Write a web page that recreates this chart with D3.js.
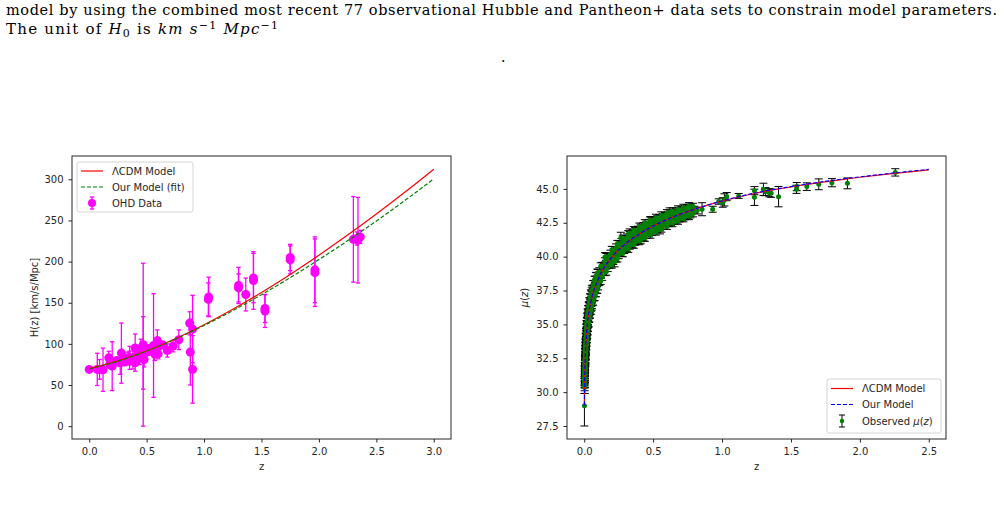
<!DOCTYPE html>
<html>
<head>
<meta charset="utf-8">
<script src="https://cdn.jsdelivr.net/npm/d3@7"></script>
<style>
  body { margin: 0; background: #fff; }
  svg { display: block; }
  text { font-family: "DejaVu Sans", sans-serif; }
</style>
</head>
<body>
<div id="chart"></div>
<script>
// ---- left panel: H(z) ----
const ohd = [
  [0.00, 69.0, 0.6], [0.07, 69, 19.6], [0.09, 69, 12], [0.12, 68.6, 26.2],
  [0.17, 83, 8], [0.179, 75, 4], [0.199, 75, 5], [0.20, 72.9, 29.6],
  [0.24, 79.7, 3], [0.27, 77, 14], [0.28, 88.8, 36.6], [0.30, 81.7, 6.2],
  [0.31, 78.2, 4.7], [0.34, 83.2, 6.7], [0.35, 82.7, 8.4], [0.352, 83, 14],
  [0.36, 79.9, 3.4], [0.38, 81.5, 1.9], [0.38, 83, 13.5], [0.40, 95, 17],
  [0.40, 82, 2], [0.40, 77, 10.2], [0.425, 87.1, 11.2], [0.43, 86.5, 4],
  [0.44, 82.6, 7.8], [0.44, 84.8, 1.8], [0.45, 92.8, 12.9], [0.47, 89, 44],
  [0.47, 99, 99], [0.478, 80.9, 9], [0.48, 87.8, 2], [0.51, 90.4, 1.9],
  [0.52, 94.4, 2.6], [0.56, 98, 63], [0.56, 93.3, 2.3], [0.57, 87.6, 7.8],
  [0.57, 96.8, 3.4], [0.59, 98.5, 3.2], [0.593, 104, 13], [0.60, 87.9, 6.1],
  [0.61, 97.3, 2.1], [0.64, 98.8, 3], [0.68, 92, 8], [0.73, 97.3, 7],
  [0.78, 105, 12], [0.875, 125, 14], [0.88, 90, 40], [0.90, 118, 41],
  [0.90, 69, 41], [1.037, 154, 20], [1.04, 157, 24], [1.30, 168, 17],
  [1.30, 171, 22], [1.363, 160, 20], [1.43, 177, 35], [1.43, 180, 30],
  [1.53, 140, 20], [1.53, 143, 17], [1.75, 202, 17], [1.75, 205, 16],
  [1.965, 186.5, 41], [1.965, 190, 40], [2.30, 227, 52], [2.33, 228, 8],
  [2.34, 226, 52], [2.36, 230, 8]
];
const hModelZ = [0, 0.25, 0.5, 0.75, 1.0, 1.25, 1.5, 1.75, 2.0, 2.25, 2.5, 2.75, 3.0];
const hLcdm = [70, 79.4, 91.6, 106.3, 123.2, 142.0, 162.5, 184.4, 207.7, 232.2, 257.8, 284.5, 312.3];
const hFit = [69.5, 79, 91.3, 105.8, 122.4, 140.4, 159.8, 180.5, 202.4, 225.3, 249.3, 274.4, 300.5];
const hXTicks = [0, 0.5, 1.0, 1.5, 2.0, 2.5, 3.0];
const hYTicks = [0, 50, 100, 150, 200, 250, 300];

// ---- right panel: distance modulus (z, mu, sigma) ----
const panLowZ = [
  [0.0015, 29.00, 1.50], [0.0026, 30.35, 0.45], [0.0028, 30.45, 0.55], [0.0030, 30.55, 0.45],
  [0.0031, 30.70, 0.40], [0.0033, 30.82, 0.45], [0.0035, 30.95, 0.40], [0.0037, 31.08, 0.45],
  [0.0039, 31.15, 0.40], [0.0041, 31.30, 0.45], [0.0043, 31.38, 0.40], [0.0045, 31.45, 0.45],
  [0.0047, 31.58, 0.40], [0.0050, 31.70, 0.45], [0.0052, 31.78, 0.40], [0.0055, 31.90, 0.45],
  [0.0058, 32.00, 0.40], [0.0061, 32.12, 0.45], [0.0064, 32.25, 0.40], [0.0067, 32.32, 0.45],
  [0.0070, 32.42, 0.40], [0.0074, 32.55, 0.45], [0.0078, 32.62, 0.40], [0.0082, 32.78, 0.45],
  [0.0086, 32.85, 0.40], [0.0090, 32.98, 0.45], [0.0095, 33.08, 0.40], [0.0100, 33.20, 0.45],
  [0.0105, 33.28, 0.40], [0.0110, 33.40, 0.45], [0.0116, 33.50, 0.40], [0.0122, 33.62, 0.45],
  [0.0128, 33.70, 0.40], [0.0135, 33.85, 0.45], [0.0142, 33.95, 0.40], [0.0150, 34.08, 0.45],
  [0.0158, 34.18, 0.40], [0.0166, 34.30, 0.45], [0.0175, 34.40, 0.40], [0.0185, 34.52, 0.45],
  [0.0195, 34.65, 0.40], [0.0205, 34.75, 0.45], [0.0216, 34.88, 0.40], [0.0228, 35.00, 0.45],
  [0.0240, 35.10, 0.40], [0.0253, 35.22, 0.45], [0.0266, 35.35, 0.40], [0.0280, 35.45, 0.45],
  [0.0295, 35.58, 0.40], [0.0310, 35.68, 0.45], [0.0326, 35.80, 0.40], [0.0343, 35.90, 0.45],
  [0.0360, 36.02, 0.40], [0.0378, 36.12, 0.45], [0.0397, 36.22, 0.40], [0.0417, 36.35, 0.45],
  [0.0438, 36.45, 0.40], [0.0460, 36.55, 0.40], [0.0483, 36.68, 0.35], [0.0507, 36.78, 0.40],
  [0.0532, 36.88, 0.35], [0.0558, 37.00, 0.40], [0.0585, 37.10, 0.35], [0.0614, 37.20, 0.40],
  [0.0644, 37.32, 0.35], [0.0675, 37.42, 0.35], [0.0708, 37.52, 0.35], [0.0742, 37.62, 0.35],
  [0.0778, 37.75, 0.35], [0.0815, 37.85, 0.35], [0.0854, 37.95, 0.35], [0.0895, 38.05, 0.35],
  [0.0938, 38.15, 0.35], [0.0982, 38.28, 0.35],
  // scatter above the mean relation
  [0.004, 31.55, 0.4], [0.005, 32.05, 0.4], [0.006, 32.40, 0.4], [0.007, 32.80, 0.4],
  [0.008, 33.05, 0.4], [0.009, 33.32, 0.4], [0.010, 33.60, 0.4], [0.012, 33.95, 0.4],
  [0.014, 34.30, 0.4], [0.016, 34.62, 0.4], [0.018, 34.85, 0.4], [0.020, 35.10, 0.4],
  [0.023, 35.40, 0.4], [0.026, 35.68, 0.4], [0.030, 36.00, 0.4], [0.035, 36.32, 0.35],
  [0.040, 36.62, 0.35], [0.045, 36.90, 0.35], [0.050, 37.12, 0.35], [0.055, 37.35, 0.35],
  [0.060, 37.55, 0.35], [0.070, 37.90, 0.35], [0.080, 38.20, 0.35], [0.090, 38.46, 0.35],
  [0.100, 38.70, 0.35],
  // scatter below the mean relation
  [0.004, 30.75, 0.4], [0.005, 31.28, 0.4], [0.006, 31.65, 0.4], [0.007, 32.00, 0.4],
  [0.008, 32.28, 0.4], [0.009, 32.55, 0.4], [0.010, 32.78, 0.4], [0.012, 33.20, 0.4],
  [0.014, 33.52, 0.4], [0.016, 33.80, 0.4], [0.018, 34.06, 0.4], [0.020, 34.30, 0.4],
  [0.023, 34.60, 0.4], [0.026, 34.86, 0.4], [0.030, 35.18, 0.4], [0.035, 35.50, 0.35],
  [0.040, 35.82, 0.35], [0.045, 36.08, 0.35], [0.050, 36.32, 0.35], [0.055, 36.52, 0.35],
  [0.060, 36.72, 0.35], [0.070, 37.08, 0.35], [0.080, 37.40, 0.35], [0.090, 37.66, 0.35],
  [0.100, 37.90, 0.35]
];
// outer scatter, low redshift
const panLowWide = [
  [0.005, 32.26, 0.35], [0.007, 32.99, 0.35], [0.009, 33.55, 0.35], [0.011, 33.99, 0.35],
  [0.013, 34.35, 0.35], [0.015, 34.67, 0.35], [0.017, 34.94, 0.35], [0.019, 35.19, 0.35],
  [0.022, 35.50, 0.35], [0.025, 35.79, 0.35], [0.028, 36.03, 0.35], [0.032, 36.34, 0.3],
  [0.037, 36.67, 0.3], [0.042, 36.96, 0.3], [0.048, 37.25, 0.3], [0.055, 37.55, 0.3],
  [0.065, 37.93, 0.3], [0.075, 38.26, 0.3], [0.085, 38.54, 0.3], [0.095, 38.79, 0.3],
  [0.005, 31.06, 0.35], [0.007, 31.79, 0.35], [0.009, 32.35, 0.35], [0.011, 32.79, 0.35],
  [0.013, 33.15, 0.35], [0.015, 33.47, 0.35], [0.017, 33.74, 0.35], [0.019, 33.99, 0.35],
  [0.022, 34.30, 0.35], [0.025, 34.59, 0.35], [0.028, 34.83, 0.35], [0.032, 35.14, 0.3],
  [0.037, 35.47, 0.3], [0.042, 35.76, 0.3], [0.048, 36.05, 0.3], [0.055, 36.35, 0.3],
  [0.065, 36.73, 0.3], [0.075, 37.06, 0.3], [0.085, 37.34, 0.3], [0.095, 37.59, 0.3]
];
const panMidZ = [
  [0.10, 38.34, 0.30], [0.12, 38.72, 0.32], [0.14, 39.15, 0.30], [0.16, 39.40, 0.32],
  [0.18, 39.75, 0.30], [0.20, 39.93, 0.32], [0.22, 40.22, 0.30], [0.24, 40.37, 0.32],
  [0.26, 40.63, 0.30], [0.28, 40.76, 0.32], [0.30, 40.99, 0.30], [0.32, 41.09, 0.32],
  [0.34, 41.30, 0.30], [0.36, 41.40, 0.32], [0.38, 41.58, 0.30], [0.40, 41.65, 0.32],
  [0.42, 41.84, 0.30], [0.44, 41.90, 0.32], [0.46, 42.08, 0.30], [0.48, 42.13, 0.32],
  [0.50, 42.29, 0.30], [0.52, 42.33, 0.30], [0.54, 42.49, 0.28], [0.56, 42.53, 0.30],
  [0.58, 42.68, 0.28], [0.60, 42.71, 0.28], [0.62, 42.86, 0.26], [0.64, 42.88, 0.28],
  [0.66, 43.02, 0.26], [0.68, 43.04, 0.26], [0.70, 43.18, 0.25], [0.72, 43.19, 0.26],
  [0.74, 43.32, 0.25], [0.76, 43.33, 0.25], [0.78, 43.46, 0.25], [0.80, 43.47, 0.25],
  [0.11, 38.88, 0.3], [0.13, 39.28, 0.3], [0.15, 39.62, 0.3], [0.17, 39.95, 0.3],
  [0.19, 40.18, 0.3], [0.21, 40.45, 0.3], [0.23, 40.64, 0.3], [0.25, 40.88, 0.3],
  [0.27, 41.04, 0.3], [0.29, 41.25, 0.3], [0.31, 41.38, 0.3], [0.33, 41.55, 0.3],
  [0.35, 41.68, 0.3], [0.37, 41.85, 0.3], [0.39, 41.95, 0.3], [0.41, 42.10, 0.3],
  [0.43, 42.22, 0.3], [0.45, 42.32, 0.3], [0.47, 42.45, 0.3], [0.49, 42.55, 0.3],
  [0.51, 42.64, 0.28], [0.53, 42.74, 0.28], [0.55, 42.82, 0.28], [0.57, 42.92, 0.28],
  [0.59, 43.00, 0.26], [0.61, 43.09, 0.26], [0.63, 43.18, 0.26], [0.65, 43.24, 0.25],
  [0.67, 43.33, 0.25], [0.69, 43.39, 0.25], [0.71, 43.47, 0.24], [0.73, 43.52, 0.24],
  [0.75, 43.60, 0.24], [0.77, 43.64, 0.24], [0.79, 43.70, 0.24],
  [0.11, 38.16, 0.3], [0.13, 38.55, 0.3], [0.15, 38.90, 0.3], [0.17, 39.20, 0.3],
  [0.19, 39.45, 0.3], [0.21, 39.72, 0.3], [0.23, 39.92, 0.3], [0.25, 40.15, 0.3],
  [0.27, 40.32, 0.3], [0.29, 40.53, 0.3], [0.31, 40.66, 0.3], [0.33, 40.85, 0.3],
  [0.35, 40.96, 0.3], [0.37, 41.14, 0.3], [0.39, 41.25, 0.3], [0.41, 41.40, 0.3],
  [0.43, 41.51, 0.3], [0.45, 41.65, 0.3], [0.47, 41.76, 0.3], [0.49, 41.88, 0.3],
  [0.51, 41.97, 0.28], [0.53, 42.09, 0.28], [0.55, 42.18, 0.28], [0.57, 42.30, 0.28],
  [0.59, 42.38, 0.26], [0.61, 42.48, 0.26], [0.63, 42.57, 0.26], [0.65, 42.65, 0.25],
  [0.67, 42.73, 0.25], [0.69, 42.81, 0.25], [0.71, 42.89, 0.24], [0.73, 42.96, 0.24],
  [0.75, 43.04, 0.24], [0.77, 43.10, 0.24], [0.79, 43.18, 0.24],
  [0.266, 41.40, 0.40], [0.15, 39.95, 0.35], [0.22, 39.60, 0.35], [0.33, 41.75, 0.3],
  [0.41, 41.25, 0.3], [0.48, 42.62, 0.3], [0.55, 41.98, 0.3], [0.62, 43.30, 0.3]
];
// outer scatter, intermediate redshift
const panMidWide = [
  [0.12, 39.30, 0.25], [0.16, 39.98, 0.25], [0.20, 40.51, 0.25], [0.24, 40.95, 0.25],
  [0.28, 41.34, 0.25], [0.32, 41.67, 0.25], [0.36, 41.97, 0.25], [0.40, 42.23, 0.25],
  [0.44, 42.48, 0.25], [0.48, 42.71, 0.25], [0.52, 42.88, 0.25], [0.56, 43.06, 0.25],
  [0.60, 43.22, 0.25], [0.64, 43.36, 0.25], [0.68, 43.50, 0.25], [0.72, 43.62, 0.25],
  [0.76, 43.74, 0.25],
  [0.12, 38.20, 0.25], [0.16, 38.88, 0.25], [0.20, 39.41, 0.25], [0.24, 39.85, 0.25],
  [0.28, 40.24, 0.25], [0.32, 40.57, 0.25], [0.36, 40.87, 0.25], [0.40, 41.13, 0.25],
  [0.44, 41.38, 0.25], [0.48, 41.61, 0.25], [0.52, 41.84, 0.25], [0.56, 42.06, 0.25],
  [0.60, 42.26, 0.25], [0.64, 42.46, 0.25], [0.68, 42.64, 0.25], [0.72, 42.82, 0.25],
  [0.76, 42.98, 0.25]
];
const panHighZ = [
  [0.82, 43.40, 0.25], [0.855, 43.50, 0.48], [0.932, 43.50, 0.22], [0.976, 44.07, 0.20],
  [1.005, 44.00, 0.35], [1.017, 44.19, 0.45], [1.034, 44.43, 0.30], [1.121, 44.48, 0.18],
  [1.235, 44.87, 0.30], [1.235, 44.38, 0.60], [1.30, 44.97, 0.45], [1.315, 44.80, 0.30],
  [1.344, 44.72, 0.30], [1.356, 44.68, 0.30], [1.41, 44.43, 0.75], [1.542, 45.17, 0.30],
  [1.54, 44.97, 0.30], [1.615, 45.17, 0.28], [1.702, 45.34, 0.40], [1.797, 45.46, 0.30],
  [1.91, 45.41, 0.40], [2.257, 46.22, 0.27]
];
const muModelZ = [0.0015, 0.002, 0.003, 0.005, 0.01, 0.02, 0.05, 0.1, 0.2, 0.3, 0.4, 0.5,
                  0.6, 0.7, 0.8, 0.9, 1.0, 1.2, 1.4, 1.6, 1.8, 2.0, 2.2, 2.4, 2.5];
const muLcdm = [29.04, 29.67, 30.55, 31.66, 33.18, 34.70, 36.74, 38.31, 39.96, 40.96, 41.68, 42.26,
                42.74, 43.15, 43.50, 43.82, 44.10, 44.59, 44.98, 45.31, 45.60, 45.86, 46.09, 46.30, 46.40];
const muOurs = [29.04, 29.67, 30.55, 31.66, 33.18, 34.70, 36.74, 38.31, 39.96, 40.96, 41.68, 42.26,
                42.74, 43.15, 43.50, 43.82, 44.11, 44.61, 45.00, 45.33, 45.63, 45.89, 46.12, 46.34, 46.44];
const muXTicks = [0, 0.5, 1.0, 1.5, 2.0, 2.5];
const muYTicks = [27.5, 30.0, 32.5, 35.0, 37.5, 40.0, 42.5, 45.0];

const width = 1004;
const height = 507;
const ink = "#262626";

const svg = (d3.select("#chart").append("svg")
             .attr("width", width)
             .attr("height", height)
             .attr("viewBox", [0, 0, width, height]));

// caption text above the figure
const serif = "'DejaVu Serif', 'Liberation Serif', serif";
svg.append("text").attr("x", 6).attr("y", 15)
  .attr("textLength", 991).attr("lengthAdjust", "spacing")
  .style("font-family", serif).style("font-size", "14.5px").attr("fill", "#000")
  .text("model by using the combined most recent 77 observational Hubble and Pantheon+ data sets to constrain model parameters.");
const l2 = svg.append("text").attr("x", 6).attr("y", 34)
  .attr("textLength", 272).attr("lengthAdjust", "spacing")
  .style("font-family", serif).style("font-size", "15px").attr("fill", "#000");
l2.append("tspan").text("The unit of ");
l2.append("tspan").style("font-style", "italic").text("H");
l2.append("tspan").attr("dy", 3).style("font-size", "11px").text("0");
l2.append("tspan").attr("dy", -3).text("  is   ");
l2.append("tspan").style("font-style", "italic").text("km s");
l2.append("tspan").attr("dy", -5).style("font-size", "11px").text("−1");
l2.append("tspan").attr("dy", 5).style("font-style", "italic").text("  Mpc");
l2.append("tspan").attr("dy", -5).style("font-size", "11px").text("−1");
svg.append("text").attr("x", 501).attr("y", 62)
  .style("font-family", serif).style("font-size", "14px").text(".");

function frame(g, x, y, xTicks, yTicks, fmtX, fmtY) {
  g.append("g")
    .attr("transform", `translate(0,${y.range()[0]})`)
    .call(d3.axisBottom(x).tickValues(xTicks).tickFormat(fmtX).tickSizeOuter(0).tickSize(3.5).tickPadding(5.5))
    .call(a => a.select(".domain").remove())
    .call(a => a.selectAll("line").attr("stroke", ink))
    .call(a => a.selectAll("text").attr("fill", ink).style("font-size", "10px").style("font-family", "'DejaVu Sans'"));
  g.append("g")
    .attr("transform", `translate(${x.range()[0]},0)`)
    .call(d3.axisLeft(y).tickValues(yTicks).tickFormat(fmtY).tickSizeOuter(0).tickSize(3.5).tickPadding(5))
    .call(a => a.select(".domain").remove())
    .call(a => a.selectAll("line").attr("stroke", ink))
    .call(a => a.selectAll("text").attr("fill", ink).style("font-size", "10px").style("font-family", "'DejaVu Sans'"));
  g.append("rect")
    .attr("x", x.range()[0]).attr("y", y.range()[1])
    .attr("width", x.range()[1] - x.range()[0])
    .attr("height", y.range()[0] - y.range()[1])
    .attr("fill", "none").attr("stroke", ink).attr("stroke-width", 1);
}

function errorBars(g, data, x, y, color, capHalf, lw) {
  const eb = g.append("g").attr("stroke", color).attr("stroke-width", lw).attr("fill", "none");
  eb.selectAll("line.v").data(data).join("line").attr("class", "v")
    .attr("x1", d => x(d[0])).attr("x2", d => x(d[0]))
    .attr("y1", d => y(d[1] - d[2])).attr("y2", d => y(d[1] + d[2]));
  eb.selectAll("line.t").data(data).join("line").attr("class", "t")
    .attr("x1", d => x(d[0]) - capHalf).attr("x2", d => x(d[0]) + capHalf)
    .attr("y1", d => y(d[1] + d[2])).attr("y2", d => y(d[1] + d[2]));
  eb.selectAll("line.b").data(data).join("line").attr("class", "b")
    .attr("x1", d => x(d[0]) - capHalf).attr("x2", d => x(d[0]) + capHalf)
    .attr("y1", d => y(d[1] - d[2])).attr("y2", d => y(d[1] - d[2]));
}

function legendBox(g, x0, y0, w, h) {
  g.append("rect").attr("x", x0).attr("y", y0).attr("width", w).attr("height", h)
    .attr("rx", 2.5).attr("fill", "#fff").attr("fill-opacity", 0.8)
    .attr("stroke", "#d4d4d4").attr("stroke-width", 1);
}

// ---------------- left panel ----------------
const xH = d3.scaleLinear().domain([-0.15, 3.15]).range([72, 451]);
const yH = d3.scaleLinear().domain([-15.6, 328.3]).range([439, 156]);
const left = svg.append("g");
frame(left, xH, yH, hXTicks, hYTicks, d3.format(".1f"), d3.format("d"));

errorBars(left, ohd, xH, yH, "#ff00ff", 2.2, 1.3);
left.append("g").selectAll("circle").data(ohd).join("circle")
  .attr("cx", d => xH(d[0])).attr("cy", d => yH(d[1])).attr("r", 4.5)
  .attr("fill", "#ff00ff");

const lineH = vals => d3.line().curve(d3.curveMonotoneX)
  .x((d, i) => xH(hModelZ[i])).y(d => yH(d))(vals);
left.append("path").attr("d", lineH(hLcdm)).attr("fill", "none")
  .attr("stroke", "#ff0000").attr("stroke-width", 1.2);
left.append("path").attr("d", lineH(hFit)).attr("fill", "none")
  .attr("stroke", "#008000").attr("stroke-width", 1.2).attr("stroke-dasharray", "4,2");

left.append("text").attr("x", (72 + 451) / 2).attr("y", 470).attr("text-anchor", "middle")
  .attr("fill", ink).style("font-size", "10px").text("z");
left.append("text").attr("transform", "translate(38,297.5) rotate(-90)").attr("text-anchor", "middle")
  .attr("fill", ink).style("font-size", "10px").text("H(z) [km/s/Mpc]");

const lgL = left.append("g");
legendBox(lgL, 77, 162, 116, 50);
lgL.append("line").attr("x1", 81).attr("x2", 103).attr("y1", 171).attr("y2", 171)
  .attr("stroke", "#ff0000").attr("stroke-width", 1.2);
lgL.append("line").attr("x1", 81).attr("x2", 103).attr("y1", 187).attr("y2", 187)
  .attr("stroke", "#008000").attr("stroke-width", 1.2).attr("stroke-dasharray", "4,2");
errorBars(lgL, [[0, 0, 1]], v => 92, v => 203 - v * 6, "#ff00ff", 2.2, 1.3);
lgL.append("circle").attr("cx", 92).attr("cy", 203).attr("r", 4).attr("fill", "#ff00ff");
[["ΛCDM Model", 171], ["Our Model (fit)", 187], ["OHD Data", 203]].forEach(([t, yy]) => {
  lgL.append("text").attr("x", 112).attr("y", yy).attr("dy", "0.35em")
    .attr("fill", ink).style("font-size", "10px").text(t);
});

// ---------------- right panel ----------------
const xM = d3.scaleLinear().domain([-0.125, 2.625]).range([567, 946]);
const yM = d3.scaleLinear().domain([26.54, 47.43]).range([439, 156]);
const right = svg.append("g");
frame(right, xM, yM, muXTicks, muYTicks, d3.format(".1f"), d3.format(".1f"));

const pan = panLowZ.concat(panLowWide, panMidZ, panMidWide, panHighZ);
errorBars(right, pan, xM, yM, "#000", 4, 1);
right.append("g").selectAll("circle").data(pan).join("circle")
  .attr("cx", d => xM(d[0])).attr("cy", d => yM(d[1])).attr("r", 2.5)
  .attr("fill", "#008000");

const lineM = vals => d3.line().curve(d3.curveMonotoneX)
  .x((d, i) => xM(muModelZ[i])).y(d => yM(d))(vals);
right.append("path").attr("d", lineM(muLcdm)).attr("fill", "none")
  .attr("stroke", "#ff0000").attr("stroke-width", 1.2);
right.append("path").attr("d", lineM(muOurs)).attr("fill", "none")
  .attr("stroke", "#0000ff").attr("stroke-width", 1.2).attr("stroke-dasharray", "4,2");

right.append("text").attr("x", (567 + 946) / 2).attr("y", 470).attr("text-anchor", "middle")
  .attr("fill", ink).style("font-size", "10px").text("z");
const yl = right.append("text").attr("transform", "translate(528,297.5) rotate(-90)")
  .attr("text-anchor", "middle").attr("fill", ink).style("font-size", "10px");
yl.append("tspan").style("font-style", "italic").text("μ");
yl.append("tspan").text("(");
yl.append("tspan").style("font-style", "italic").text("z");
yl.append("tspan").text(")");

const lgR = right.append("g");
legendBox(lgR, 827, 379, 114, 54);
lgR.append("line").attr("x1", 831).attr("x2", 853).attr("y1", 388.5).attr("y2", 388.5)
  .attr("stroke", "#ff0000").attr("stroke-width", 1.2);
lgR.append("line").attr("x1", 831).attr("x2", 853).attr("y1", 404.5).attr("y2", 404.5)
  .attr("stroke", "#0000ff").attr("stroke-width", 1.2).attr("stroke-dasharray", "4,2");
errorBars(lgR, [[0, 0, 1]], v => 842, v => 421 - v * 6, "#000", 3, 1);
lgR.append("circle").attr("cx", 842).attr("cy", 421).attr("r", 2.2).attr("fill", "#008000");
lgR.append("text").attr("x", 862).attr("y", 388.5).attr("dy", "0.35em")
  .attr("fill", ink).style("font-size", "10px").text("ΛCDM Model");
lgR.append("text").attr("x", 862).attr("y", 404.5).attr("dy", "0.35em")
  .attr("fill", ink).style("font-size", "10px").text("Our Model");
const obs = lgR.append("text").attr("x", 862).attr("y", 421).attr("dy", "0.35em")
  .attr("fill", ink).style("font-size", "10px");
obs.append("tspan").text("Observed ");
obs.append("tspan").style("font-style", "italic").text("μ");
obs.append("tspan").text("(");
obs.append("tspan").style("font-style", "italic").text("z");
obs.append("tspan").text(")");
</script>
</body>
</html>
